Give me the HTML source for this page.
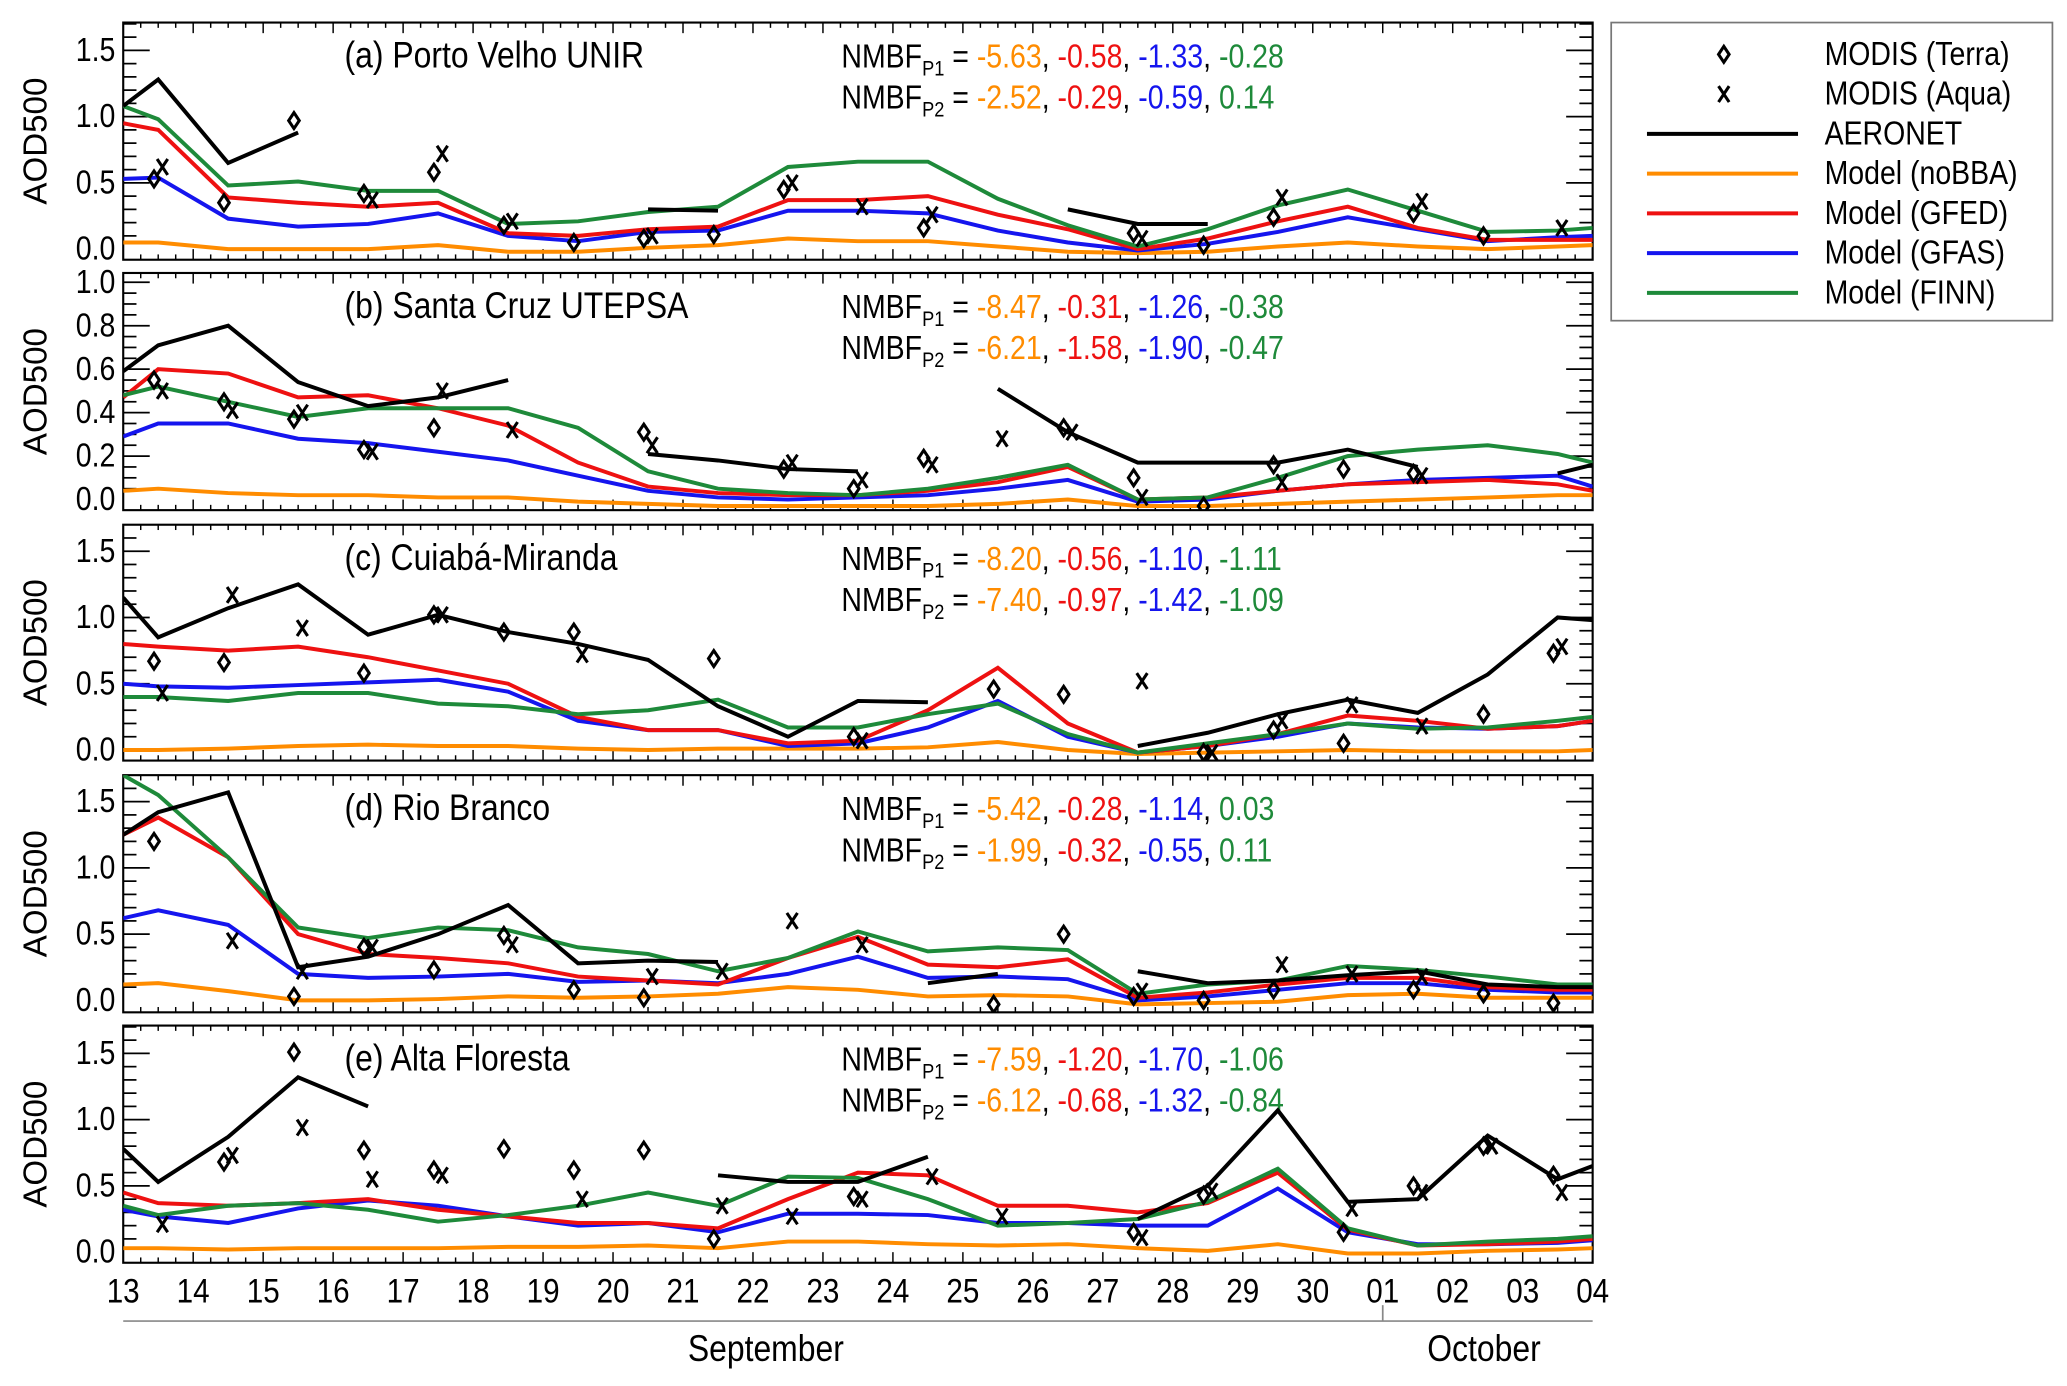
<!DOCTYPE html>
<html><head><meta charset="utf-8"><style>
html,body{margin:0;padding:0;background:#fff;}
svg{display:block;}
text{font-family:"Liberation Sans Narrow","Liberation Sans",sans-serif;}
</style></head><body>
<svg id="chart" width="2067" height="1386" viewBox="0 0 1560 1046" xmlns="http://www.w3.org/2000/svg"></svg>
<script>
// ---- data ----
const dayLabels = ["13","14","15","16","17","18","19","20","21","22","23","24","25","26","27","28","29","30","01","02","03","04"];
const modelT = [0,0.5,1.5,2.5,3.5,4.5,5.5,6.5,7.5,8.5,9.5,10.5,11.5,12.5,13.5,14.5,15.5,16.5,17.5,18.5,19.5,20.5,21];
const panelTitles = ["(a) Porto Velho UNIR","(b) Santa Cruz UTEPSA","(c) Cuiabá-Miranda","(d) Rio Branco","(e) Alta Floresta"];
const nmbfP1 = [["-5.63","-0.58","-1.33","-0.28"],["-8.47","-0.31","-1.26","-0.38"],["-8.20","-0.56","-1.10","-1.11"],["-5.42","-0.28","-1.14","0.03"],["-7.59","-1.20","-1.70","-1.06"]];
const nmbfP2 = [["-2.52","-0.29","-0.59","0.14"],["-6.21","-1.58","-1.90","-0.47"],["-7.40","-0.97","-1.42","-1.09"],["-1.99","-0.32","-0.55","0.11"],["-6.12","-0.68","-1.32","-0.84"]];
const yTicksA = [0,0.5,1.0,1.5];
const yTicksB = [0,0.2,0.4,0.6,0.8,1.0];
const N=null;
const aeronet = [
 [1.08,1.28,0.65,0.88,N,N,N,N,0.30,0.29,N,N,N,N,0.30,0.19,0.19,N,N,N,N,N,N],
 [0.59,0.71,0.80,0.54,0.43,0.47,0.55,N,0.21,0.18,0.14,0.13,N,0.51,0.31,0.17,0.17,0.17,0.23,0.15,N,0.12,0.16],
 [1.15,0.85,1.07,1.25,0.87,1.02,0.89,0.80,0.68,0.33,0.10,0.37,0.36,N,N,0.03,0.13,0.27,0.38,0.28,0.57,1.00,0.98],
 [1.25,1.42,1.57,0.25,0.33,0.50,0.72,0.28,0.30,0.29,N,N,0.13,0.20,N,0.22,0.13,0.15,0.19,0.22,0.12,0.10,0.10],
 [0.78,0.53,0.87,1.32,1.10,N,N,N,N,0.58,0.53,0.53,0.72,N,N,0.25,0.50,1.07,0.38,0.40,0.88,0.55,0.65]
];
const noBBA = [
 [0.05,0.05,0.00,0.00,0.00,0.03,-0.02,-0.02,0.01,0.03,0.08,0.06,0.06,0.02,-0.02,-0.03,-0.02,0.02,0.05,0.02,0.00,0.02,0.03],
 [0.04,0.05,0.03,0.02,0.02,0.01,0.01,-0.01,-0.02,-0.03,-0.03,-0.03,-0.03,-0.02,0.00,-0.03,-0.03,-0.02,-0.01,0.00,0.01,0.02,0.02],
 [0.00,0.00,0.01,0.03,0.04,0.03,0.03,0.01,0.00,0.01,0.01,0.01,0.02,0.06,0.00,-0.03,-0.02,-0.01,0.00,-0.01,-0.01,-0.01,0.00],
 [0.12,0.13,0.07,0.00,0.00,0.01,0.03,0.02,0.03,0.05,0.10,0.08,0.03,0.04,0.03,-0.03,-0.02,-0.01,0.04,0.05,0.02,0.02,0.02],
 [0.03,0.03,0.02,0.03,0.03,0.03,0.04,0.04,0.05,0.03,0.08,0.08,0.06,0.05,0.06,0.03,0.01,0.06,-0.01,-0.01,0.01,0.02,0.03]
];
const gfed = [
 [0.95,0.90,0.39,0.35,0.32,0.35,0.12,0.10,0.15,0.17,0.37,0.37,0.40,0.26,0.15,0.00,0.08,0.21,0.32,0.16,0.07,0.07,0.07],
 [0.47,0.60,0.58,0.47,0.48,0.42,0.34,0.17,0.06,0.03,0.02,0.02,0.04,0.08,0.15,0.00,0.01,0.04,0.07,0.08,0.09,0.07,0.04],
 [0.80,0.78,0.75,0.78,0.70,0.60,0.50,0.25,0.15,0.15,0.05,0.07,0.30,0.62,0.20,-0.02,0.03,0.12,0.26,0.22,0.16,0.18,0.22],
 [1.25,1.38,1.08,0.50,0.35,0.32,0.28,0.18,0.15,0.12,0.32,0.48,0.27,0.25,0.31,0.02,0.06,0.12,0.17,0.17,0.10,0.08,0.08],
 [0.45,0.37,0.35,0.37,0.40,0.32,0.27,0.22,0.22,0.18,0.40,0.60,0.58,0.35,0.35,0.30,0.37,0.60,0.17,0.05,0.06,0.08,0.10]
];
const gfas = [
 [0.53,0.54,0.23,0.17,0.19,0.27,0.10,0.06,0.13,0.14,0.29,0.29,0.27,0.14,0.05,-0.01,0.04,0.13,0.24,0.15,0.06,0.09,0.10],
 [0.29,0.35,0.35,0.28,0.26,0.22,0.18,0.11,0.04,0.01,0.00,0.01,0.02,0.05,0.09,-0.01,0.00,0.04,0.07,0.09,0.10,0.11,0.06],
 [0.50,0.48,0.47,0.49,0.51,0.53,0.44,0.22,0.15,0.15,0.03,0.05,0.17,0.37,0.10,-0.02,0.03,0.10,0.20,0.17,0.16,0.18,0.22],
 [0.62,0.68,0.57,0.20,0.17,0.18,0.20,0.14,0.15,0.13,0.20,0.33,0.17,0.18,0.16,0.00,0.03,0.08,0.13,0.13,0.08,0.06,0.06],
 [0.32,0.27,0.22,0.33,0.39,0.35,0.27,0.20,0.22,0.15,0.29,0.29,0.28,0.22,0.22,0.20,0.20,0.48,0.15,0.06,0.06,0.07,0.09]
];
const finn = [
 [1.08,0.98,0.48,0.51,0.44,0.44,0.19,0.21,0.28,0.32,0.62,0.66,0.66,0.38,0.18,0.02,0.15,0.33,0.45,0.29,0.13,0.14,0.16],
 [0.48,0.52,0.45,0.38,0.42,0.42,0.42,0.33,0.13,0.05,0.03,0.02,0.05,0.10,0.16,0.00,0.01,0.10,0.20,0.23,0.25,0.21,0.17],
 [0.40,0.40,0.37,0.43,0.43,0.35,0.33,0.27,0.30,0.38,0.17,0.17,0.27,0.35,0.12,-0.02,0.05,0.12,0.20,0.16,0.17,0.22,0.25],
 [1.70,1.55,1.08,0.55,0.47,0.55,0.53,0.40,0.35,0.22,0.32,0.52,0.37,0.40,0.38,0.05,0.12,0.15,0.26,0.23,0.18,0.12,0.12],
 [0.35,0.28,0.35,0.37,0.32,0.23,0.28,0.35,0.45,0.35,0.57,0.56,0.40,0.20,0.22,0.25,0.38,0.63,0.18,0.05,0.08,0.10,0.12]
];
// MODIS per day (index i -> t = i+0.5)
const terra = [
 [0.53,0.35,0.97,0.42,0.58,0.18,0.05,0.08,0.11,0.45,N,0.16,N,N,0.12,0.03,0.24,N,0.27,0.10,N],
 [0.55,0.45,0.37,0.23,0.33,N,N,0.31,N,0.14,0.05,0.19,N,0.33,0.10,-0.03,0.16,0.14,0.12,N,N],
 [0.67,0.66,N,0.58,1.02,0.89,0.89,N,0.69,N,0.10,N,0.46,0.42,N,-0.02,0.15,0.05,N,0.27,0.73],
 [1.20,N,0.03,0.40,0.23,0.49,0.08,0.02,N,N,N,N,-0.03,0.50,0.03,0.00,0.08,N,0.08,0.05,-0.02],
 [N,0.68,1.51,0.77,0.62,0.78,0.62,0.77,0.10,N,0.42,N,N,N,0.15,0.43,N,0.15,0.50,0.80,0.58]
];
const aqua = [
 [0.62,N,N,0.37,0.72,0.21,N,0.10,N,0.50,0.32,0.26,N,N,0.08,N,0.39,N,0.36,N,0.16],
 [0.50,0.41,0.40,0.22,0.50,0.32,N,0.25,N,0.17,0.09,0.16,0.28,0.31,0.01,N,0.08,N,0.11,N,N],
 [0.43,1.17,0.92,N,1.02,N,0.72,N,N,N,0.07,N,N,N,0.52,-0.02,0.22,0.34,0.18,N,0.78],
 [N,0.45,0.22,0.40,N,0.42,N,0.18,0.22,0.60,0.42,N,N,N,0.07,N,0.27,0.20,0.18,N,N],
 [0.21,0.73,0.94,0.55,0.58,N,0.40,N,0.35,0.27,0.40,0.57,0.27,N,0.11,0.46,N,0.33,0.45,0.80,0.45]
];
// ---- drawing ----
const svg=document.getElementById('chart');
const NS="http://www.w3.org/2000/svg";
const SX=0.86;
function el(tag,attrs,parent){const e=document.createElementNS(NS,tag);for(const k in attrs)e.setAttribute(k,attrs[k]);(parent||svg).appendChild(e);return e;}
function ntext(x,y,size,anchor,parent){return el('text',{x:(x/SX).toFixed(1),y:y,"font-size":size,"text-anchor":anchor||"start",transform:`scale(${SX},1)`},parent);}
const X0=93,X1=1202,DAYS=21;
function xs(t){return X0+(X1-X0)*t/DAYS;}
const panels=[
 {top:17,bot:196,y0:188,ppu:100,ticks:yTicksA,minor:0.1},
 {top:206,bot:385,y0:377,ppu:164,ticks:yTicksB,minor:0.05},
 {top:396,bot:574,y0:566,ppu:100,ticks:yTicksA,minor:0.1},
 {top:585,bot:764,y0:755,ppu:100,ticks:yTicksA,minor:0.1},
 {top:774,bot:953,y0:945,ppu:100,ticks:yTicksA,minor:0.1}
];
const colors={nobba:"#ff8c00",gfed:"#ee1111",gfas:"#1515ee",finn:"#1e8a3a",aer:"#000"};
panels.forEach((p,pi)=>{
  const g=el('g',{});
  
  
  const cp=el('clipPath',{id:'clip'+pi},g);
  el('rect',{x:X0,y:p.top,width:X1-X0,height:p.bot-p.top},cp);
  const ys=v=>p.y0-v*p.ppu;
  const fr=el('rect',{x:X0,y:p.top,width:X1-X0,height:p.bot-p.top,fill:"none",stroke:"#000","stroke-width":1.6},g);
  
  
  const vmin=(p.y0-p.bot)/-p.ppu, vmax=(p.y0-p.top)/p.ppu;
  for(let v=Math.ceil(vmin/p.minor)*p.minor; v<=vmax; v+=p.minor){
    const y=ys(v); const major=p.ticks.some(t=>Math.abs(t-v)<1e-6);
    const L=major?20:10;
    el('line',{x1:X0,x2:X0+L,y1:y,y2:y,stroke:"#000","stroke-width":1.3},g);
    el('line',{x1:X1,x2:X1-L,y1:y,y2:y,stroke:"#000","stroke-width":1.3},g);
  }
  p.ticks.forEach(v=>{
    const t=ntext(X0-6,ys(v)+8,25,"end",g);
    t.textContent=v.toFixed(1);
    
    
  });
  for(let q=0;q<=DAYS*4;q++){
    const x=xs(q/4); const L=q%4===0?8:4;
    el('line',{x1:x,x2:x,y1:p.bot,y2:p.bot-L,stroke:"#000","stroke-width":1.1},g);
    el('line',{x1:x,x2:x,y1:p.top,y2:p.top+L,stroke:"#000","stroke-width":1.1},g);
  }
  const yl=el('text',{x:0,y:0,"text-anchor":"middle","font-size":25,transform:`translate(35,${(p.top+p.bot)/2}) rotate(-90)`},g);
  yl.textContent="AOD500";
  
  
  const tt=ntext(260,p.top+34,28,"start",g);
  tt.textContent=panelTitles[pi];
  
  
  [nmbfP1[pi],nmbfP2[pi]].forEach((vals,ri)=>{
    const tx=ntext(635,p.top+34+ri*31,25,"start",g);
    
    
    const s=el('tspan',{},tx); s.textContent="NMBF";
    const sub=el('tspan',{"font-size":16,dy:6},tx); sub.textContent="P"+(ri+1);
    const eq=el('tspan',{dy:-6},tx); eq.textContent=" =  ";
    const cols=[colors.nobba,colors.gfed,colors.gfas,colors.finn];
    vals.forEach((v,k)=>{
      const sp=el('tspan',{fill:cols[k]},tx); sp.textContent=v;
      if(k<3){const c=el('tspan',{},tx);c.textContent=", ";}
    });
  });
  const pg=el('g',{"clip-path":`url(#clip${pi})`},g);
  function line(arr,col,name){
    let d="",pen=false;
    arr.forEach((v,i)=>{ if(v===null){pen=false;return;} d+=(pen?"L":"M")+xs(modelT[i]).toFixed(1)+","+ys(v).toFixed(1); pen=true;});
    const pa=el('path',{d:d,fill:"none",stroke:col,"stroke-width":3,"stroke-linejoin":"miter"},pg);
    
    
  }
  line(noBBA[pi],colors.nobba,'model-nobba-line');
  line(gfas[pi],colors.gfas,'model-gfas-line');
  line(gfed[pi],colors.gfed,'model-gfed-line');
  line(finn[pi],colors.finn,'model-finn-line');
  line(aeronet[pi],colors.aer,'aeronet-line');
  terra[pi].forEach((v,i)=>{ if(v===null)return; const x=xs(i+0.44),y=ys(v);
    const m=el('path',{d:`M${x},${y-6}L${x+4},${y}L${x},${y+6}L${x-4},${y}Z`,fill:"none",stroke:"#000","stroke-width":2.3},pg);
    
    
  });
  aqua[pi].forEach((v,i)=>{ if(v===null)return; const x=xs(i+0.56),y=ys(v);
    const m=el('path',{d:`M${x-4},${y-6}L${x+4},${y+6}M${x+4},${y-6}L${x-4},${y+6}`,fill:"none",stroke:"#000","stroke-width":2.3},pg);
    
    
  });
});
dayLabels.forEach((d,i)=>{
  const t=ntext(xs(i),983,26,"middle");
  t.textContent=d;
  
  
});
el('line',{x1:X0,x2:X1,y1:997,y2:997,stroke:"#888","stroke-width":1.3});
el('line',{x1:xs(18),x2:xs(18),y1:985,y2:997,stroke:"#888","stroke-width":1.3});
const sep=ntext(578,1027,28,"middle");sep.textContent="September";


const oct=ntext(1120,1027,28,"middle");oct.textContent="October";


const lg=el('g',{});


el('rect',{x:1216,y:17,width:333,height:225,fill:"#fff",stroke:"#777","stroke-width":1.3},lg);
const legItems=[["terra","MODIS (Terra)"],["aqua","MODIS (Aqua)"],[colors.aer,"AERONET"],[colors.nobba,"Model (noBBA)"],[colors.gfed,"Model (GFED)"],[colors.gfas,"Model (GFAS)"],[colors.finn,"Model (FINN)"]];
legItems.forEach((it,k)=>{
  const y=41+k*30;
  const e=el('g',{},lg);
  
  
  if(it[0]==="terra") el('path',{d:`M1301,${y-6}L1305,${y}L1301,${y+6}L1297,${y}Z`,fill:"none",stroke:"#000","stroke-width":2.3},e);
  else if(it[0]==="aqua") el('path',{d:`M1297,${y-6}L1305,${y+6}M1305,${y-6}L1297,${y+6}`,stroke:"#000","stroke-width":2.3},e);
  else el('line',{x1:1243,x2:1357,y1:y,y2:y,stroke:it[0],"stroke-width":3},e);
  const t=ntext(1377,y+8,25,"start",e); t.textContent=it[1];
});
</script>
</body></html>
